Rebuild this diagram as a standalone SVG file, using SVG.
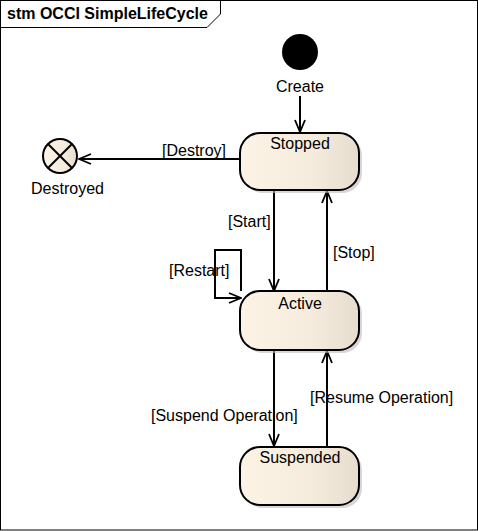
<svg xmlns="http://www.w3.org/2000/svg" width="478" height="531" viewBox="0 0 478 531">
<style>
text{font-family:"Liberation Sans",Arial,sans-serif;font-size:16px;fill:#000}
.title{font-weight:bold}
.state{fill:url(#g);stroke:#000;stroke-width:2}
.shadow{fill:#bdbdbd;opacity:0.6}
.c{fill:none;stroke:#000;stroke-width:2;marker-end:url(#a)}
.m{text-anchor:middle}
</style>
<defs>
<linearGradient id="g" x1="0" y1="0" x2="1" y2="0">
<stop offset="0" stop-color="#fcf3e6"/>
<stop offset="0.6" stop-color="#f6ecdd"/>
<stop offset="1" stop-color="#e6dccf"/>
</linearGradient>
<marker id="a" markerWidth="14" markerHeight="14" viewBox="0 0 14 14" refX="13" refY="7" orient="auto" markerUnits="userSpaceOnUse">
<polyline points="1,2 13,7 1,12" fill="none" stroke="#000" stroke-width="1.8"/>
</marker>
</defs>
<rect x="0" y="0" width="478" height="531" fill="#fff"/>
<rect x="0.5" y="0.5" width="477" height="529.5" fill="none" stroke="#000" stroke-width="1"/>
<path d="M0.5 27.5 H207 L220.5 14 V0.5" fill="none" stroke="#000" stroke-width="1"/>
<text class="title" x="7" y="19">stm OCCI SimpleLifeCycle</text>

<g id="connectors">
<line class="c" x1="300" y1="96" x2="300" y2="132"/>
<line class="c" x1="240" y1="159" x2="79" y2="159"/>
<line class="c" x1="274" y1="190" x2="274" y2="291"/>
<line class="c" x1="327" y1="291" x2="327" y2="191"/>
<path class="c" d="M241 291 V250 H215 V298 H241"/>
<line class="c" x1="274" y1="350" x2="274" y2="446"/>
<line class="c" x1="327" y1="447" x2="327" y2="351"/>
<text x="162" y="156">[Destroy]</text>
<text x="228" y="227">[Start]</text>
<text x="333" y="258">[Stop]</text>
<text x="169" y="276">[Restart]</text>
<text x="151" y="421">[Suspend Operation]</text>
<text x="310" y="403">[Resume Operation]</text>
</g>

<g id="initial">
<circle cx="300" cy="52" r="18" fill="#000"/>
<text class="m" x="300" y="92">Create</text>
</g>

<g id="destroyed">
<circle cx="60" cy="156" r="17" fill="url(#g)" stroke="#000" stroke-width="2"/>
<line x1="48" y1="144" x2="72" y2="168" stroke="#000" stroke-width="2"/>
<line x1="72" y1="144" x2="48" y2="168" stroke="#000" stroke-width="2"/>
<text x="31" y="194">Destroyed</text>
</g>

<g id="stopped">
<rect class="shadow" x="243" y="136" width="119" height="57" rx="20"/>
<rect class="state" x="240" y="133" width="119" height="57" rx="20"/>
<text class="m" x="300" y="149">Stopped</text>
</g>

<g id="active">
<rect class="shadow" x="243" y="294" width="119" height="59" rx="20"/>
<rect class="state" x="240" y="291" width="119" height="59" rx="20"/>
<text class="m" x="300" y="309">Active</text>
</g>

<g id="suspended">
<rect class="shadow" x="243" y="450" width="119" height="58" rx="20"/>
<rect class="state" x="240" y="447" width="119" height="58" rx="20"/>
<text class="m" x="300" y="463">Suspended</text>
</g>
</svg>
